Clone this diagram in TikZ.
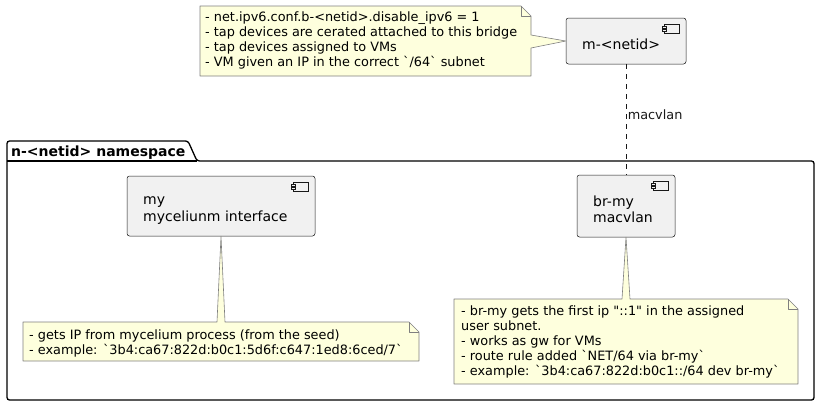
\documentclass[tikz,border=0pt]{standalone}
\usepackage{fontspec}
\setmainfont{DejaVu Sans}[Ligatures=TeXOff]
\usetikzlibrary{positioning}
\definecolor{notefill}{HTML}{FEFFDD}
\definecolor{notedraw}{HTML}{7F7F7F}
\definecolor{compfill}{HTML}{F1F1F1}
\definecolor{compdraw}{HTML}{181818}

\begin{document}
\begin{tikzpicture}[x=1pt, y=-1pt,
    comp/.style={draw=compdraw, fill=compfill, line width=0.5pt, rounded corners=2.5pt, inner sep=0pt},
    ctext/.style={font=\fontsize{14}{16.5}\selectfont, align=left, inner sep=0pt, anchor=north west, execute at begin node=\strut},
    ntext/.style={font=\fontsize{12.85}{15}\selectfont, align=left, inner sep=0pt, anchor=north west, execute at begin node=\strut},
    note/.style={draw=notedraw, fill=notefill, line width=0.6pt, line join=round}
  ]
    \useasboundingbox (0,0) rectangle (820,407);

    % Package n-<netid> namespace
    \draw[line width=1.3pt, rounded corners=2.5pt] (7,400) -- (7,141) -- (188,141) -- (197,161) -- (814,161) -- (814,400) -- cycle;
    \draw[line width=1.3pt] (7,161) -- (197,161);
    \node[font=\fontsize{14}{16.5}\selectfont\bfseries, anchor=base west, inner sep=0pt] (nstitle) at (11,156) {n-<netid> namespace};

    % Components
    \node[comp, minimum width=120pt, minimum height=46pt] (mnet) at (626,41) {};
    \node[ctext] (mnettxt) at (582,37.5) {m-<netid>};

    \node[comp, minimum width=188pt, minimum height=60pt] (mybox) at (221,206) {};
    \node[ctext] (myboxtxt) at (143,196.5) {my\\myceliunm interface};

    \node[comp, minimum width=98pt, minimum height=62pt] (brmy) at (626,206) {};
    \node[ctext] (brmytxt) at (593,195.5) {br-my\\macvlan};

    % Component icons
    \foreach \c in {mnet,mybox,brmy} {
        \draw[compdraw, line width=0.5pt, fill=compfill] ([shift={(-22,6)}]\c.north east) rectangle ([shift={(-7,15)}]\c.north east);
        \draw[compdraw, line width=0.5pt, fill=compfill] ([shift={(-24,8)}]\c.north east) rectangle ([shift={(-20,10)}]\c.north east);
        \draw[compdraw, line width=0.5pt, fill=compfill] ([shift={(-24,11)}]\c.north east) rectangle ([shift={(-20,13)}]\c.north east);
    }

    % macvlan link
    \draw[compdraw, line width=0.5pt, dash pattern=on 5pt off 5pt] (mnet) -- (brmy)
        node[pos=0.46, right, inner sep=1.5pt, font=\fontsize{12.85}{15}\selectfont] (linklbl) {macvlan};

    % Note on m-<netid>
    \draw[note] (200,6) -- (521,6) -- (531,16) -- (531,35) -- (mnet.west) -- (531,48) -- (531,76) -- (200,76) -- cycle;
    \draw[note, fill=none] (521,6) -- (521,16) -- (531,16);
    \node[ntext] (topnote) at (205,11.5) {- net.ipv6.conf.b-<netid>.disable\_ipv6 = 1\\- tap devices are cerated attached to this bridge\\- tap devices assigned to VMs\\- VM given an IP in the correct `/64` subnet};

    % Note on my
    \draw[note] (23,322) -- (217,322) -- (mybox.south) -- (225,322) -- (409,322) -- (419,332) -- (419,361) -- (23,361) -- cycle;
    \draw[note, fill=none] (409,322) -- (409,332) -- (419,332);
    \node[ntext] (mynote) at (29,329.5) {- gets IP from mycelium process (from the seed)\\- example: `3b4:ca67:822d:b0c1:5d6f:c647:1ed8:6ced/7`};

    % Note on br-my
    \draw[note] (454,299) -- (622,299) -- (brmy.south) -- (630,299) -- (788,299) -- (798,309) -- (798,384) -- (454,384) -- cycle;
    \draw[note, fill=none] (788,299) -- (788,309) -- (798,309);
    \node[ntext] (brnote) at (461,305.5) {- br-my gets the first ip "::1" in the assigned\\user subnet.\\- works as gw for VMs\\- route rule added `NET/64 via br-my`\\- example: `3b4:ca67:822d:b0c1::/64 dev br-my`};
\end{tikzpicture}
\end{document}
